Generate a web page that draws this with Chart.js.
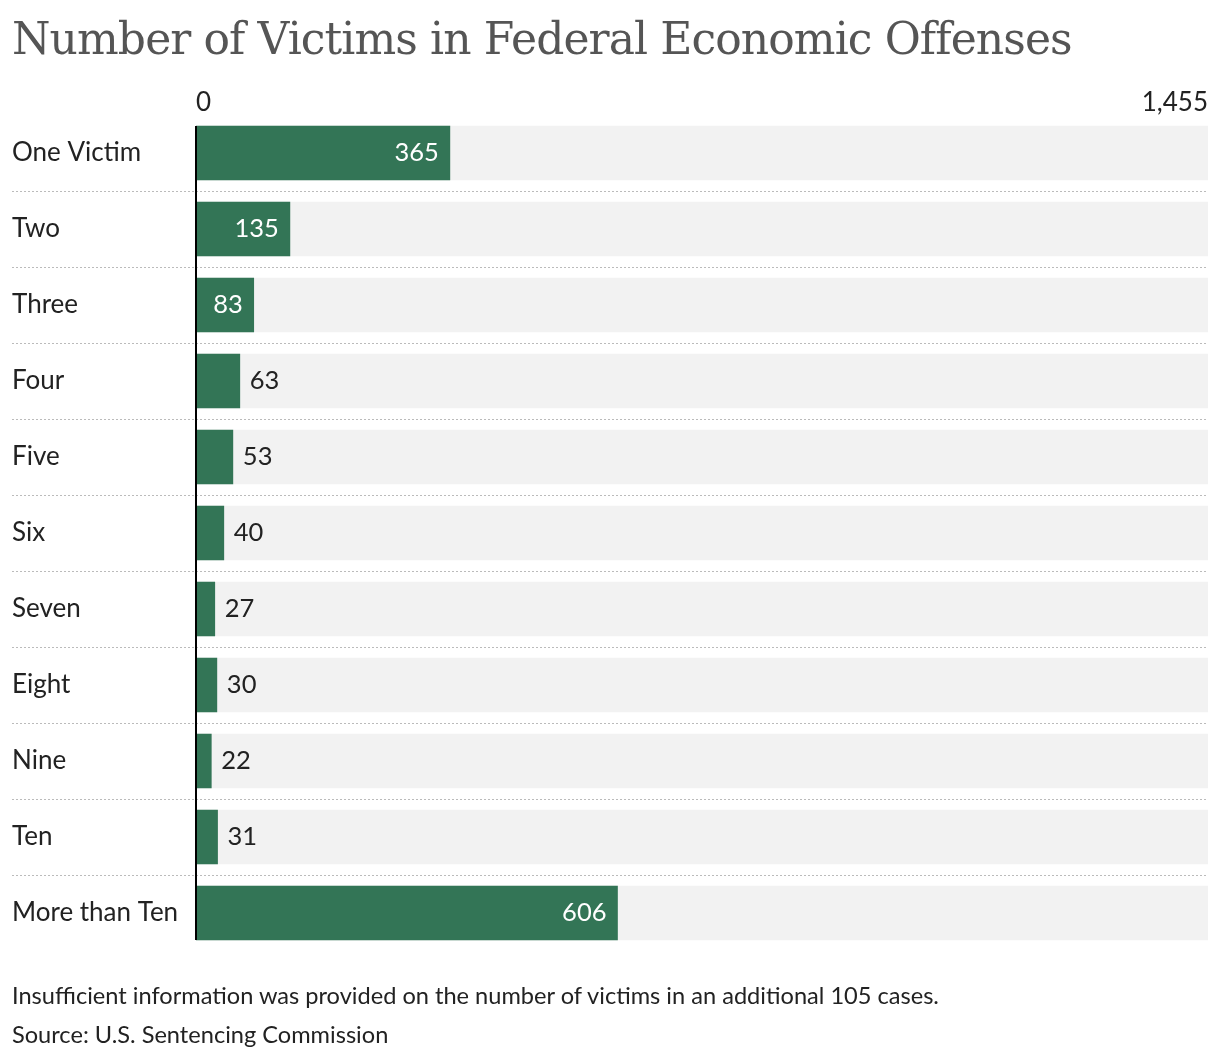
<!DOCTYPE html>
<html>
<head>
<meta charset="utf-8">
<script src="https://cdn.jsdelivr.net/npm/chart.js@4/dist/chart.umd.min.js"></script>
<style>
	body { margin: 0; background: #fff; }
	#wrap { position: absolute; left: 0; top: 0; width: 1220px; height: 1060px; }
	#title { position: absolute; left: 12px; top: 13px; font-family: "DejaVu Serif", serif; font-size: 44px; letter-spacing: -0.9px; color: #555; white-space: nowrap; }
	.note { position: absolute; left: 12px; font-family: Lato, sans-serif; font-size: 23.6px; color: #222; white-space: nowrap; }
</style>
</head>
<body>
<div id="wrap"><canvas id="chart"></canvas></div>
<div id="title">Number of Victims in Federal Economic Offenses</div>
<div class="note" style="top:981px">Insufficient information was provided on the number of victims in an additional 105 cases.</div>
<div class="note" style="top:1020px">Source: U.S. Sentencing Commission</div>
<script>
const categories = ['One Victim', 'Two', 'Three', 'Four', 'Five', 'Six', 'Seven', 'Eight', 'Nine', 'Ten', 'More than Ten'];
const victims = [365, 135, 83, 63, 53, 40, 27, 30, 22, 31, 606];
const axisMax = 1455;
const axisTicks = [0, 1455];

const green = '#337556';
const font = 'Lato, sans-serif';

// gray track behind each bar, full scale
let track = categories.map(() => axisMax);

const decorations = {
	id: 'decorations',
	beforeDatasetsDraw(chart) {
		const ctx = chart.ctx;
		const y = chart.scales.y;
		ctx.save();
		ctx.strokeStyle = '#bbb';
		ctx.lineWidth = 1;
		ctx.setLineDash([2, 2]);
		for(let i = 1; i < categories.length; i++)
		{
			let py = Math.round((y.getPixelForValue(i - 1) + y.getPixelForValue(i)) / 2) + 0.5;
			ctx.beginPath();
			ctx.moveTo(12, py);
			ctx.lineTo(chart.chartArea.right, py);
			ctx.stroke();
		}
		ctx.restore();
	},
	afterDatasetsDraw(chart) {
		const ctx = chart.ctx;
		const meta = chart.getDatasetMeta(1);
		const x0 = chart.scales.x.getPixelForValue(0);
		ctx.save();
		ctx.font = '25.5px ' + font;
		ctx.textBaseline = 'middle';
		meta.data.forEach((bar, i) => {
			let txt = String(victims[i]);
			let w = ctx.measureText(txt).width;
			if(w + 20 < bar.x - x0)
			{
				ctx.fillStyle = '#fff';
				ctx.textAlign = 'right';
				ctx.fillText(txt, bar.x - 11, bar.y);
			}
			else
			{
				ctx.fillStyle = '#222';
				ctx.textAlign = 'left';
				ctx.fillText(txt, bar.x + 10, bar.y);
			}
		});

		// zero line over the bars
		let first = meta.data[0], last = meta.data[meta.data.length - 1];
		ctx.strokeStyle = '#000';
		ctx.lineWidth = 2;
		ctx.beginPath();
		ctx.moveTo(x0, first.y - first.height / 2);
		ctx.lineTo(x0, last.y + last.height / 2);
		ctx.stroke();
		ctx.restore();
	}
};

new Chart(document.getElementById('chart'), {
	type: 'bar',
	data: {
		labels: categories,
		datasets: [
			{
				data: track,
				backgroundColor: '#f2f2f2',
				barThickness: 54,
				grouped: false,
				order: 2,
			},
			{
				data: victims,
				backgroundColor: green,
				barThickness: 54,
				grouped: false,
				order: 1,
			},
		],
	},
	options: {
		indexAxis: 'y',
		responsive: true,
		maintainAspectRatio: false,
		animation: false,
		layout: {
			padding: { left: 12, right: 12, top: 87, bottom: 109 },
		},
		plugins: {
			legend: { display: false },
			tooltip: { enabled: false },
		},
		scales: {
			x: {
				position: 'top',
				min: 0,
				max: axisMax,
				afterBuildTicks: scale => {
					scale.ticks = axisTicks.map(v => ({value: v}));
				},
				afterFit: scale => { scale.height = 28; },
				grid: { display: false, drawTicks: false },
				border: { display: false },
				ticks: {
					align: 'inner',
					padding: -3,
					maxRotation: 0,
					color: '#222',
					font: { family: font, size: 26 },
					callback: v => v.toLocaleString('en-US'),
				},
			},
			y: {
				afterFit: scale => { scale.width = 184; },
				grid: { display: false, drawTicks: false },
				border: { display: false },
				ticks: {
					crossAlign: 'far',
					color: '#222',
					font: { family: font, size: 26 },
				},
			},
		},
	},
	plugins: [decorations],
});
</script>
</body>
</html>
